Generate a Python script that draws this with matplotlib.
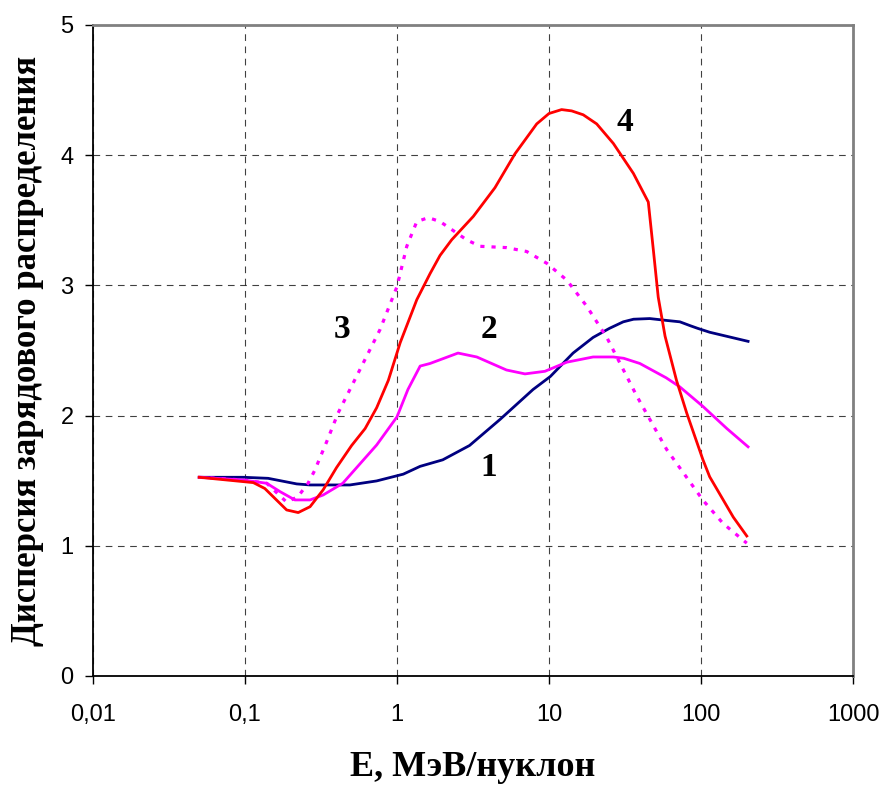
import numpy as np
import matplotlib.pyplot as plt

# curve 1 (navy)
e1 = [0.05, 0.0975, 0.142, 0.219, 0.268, 0.49, 0.735, 1.1, 1.42, 2.0, 3.0, 4.76, 7.85,
      10.2, 14.4, 19.5, 25.0, 30.8, 36.0, 46.0, 60.0, 72.6, 85.0, 95.0, 114.0, 204.0]
d1 = [1.526, 1.526, 1.518, 1.475, 1.467, 1.467, 1.498, 1.55, 1.61, 1.66, 1.77, 1.97, 2.2,
      2.30, 2.48, 2.60, 2.67, 2.72, 2.74, 2.745, 2.73, 2.72, 2.69, 2.67, 2.64, 2.57]

# curve 2 (magenta, solid)
e2 = [0.05, 0.0975, 0.139, 0.17, 0.213, 0.268, 0.327, 0.44, 0.735, 1.0, 1.18, 1.42, 1.65,
      2.52, 3.35, 5.25, 6.95, 9.4, 13.1, 19.5, 26.5, 31.0, 39.6, 59.0, 72.6, 103.0, 148.0, 204.0]
d2 = [1.526, 1.505, 1.48, 1.416, 1.352, 1.352, 1.39, 1.48, 1.774, 1.99, 2.20, 2.38, 2.40,
      2.48, 2.45, 2.35, 2.32, 2.34, 2.41, 2.45, 2.45, 2.44, 2.40, 2.29, 2.22, 2.07, 1.90, 1.76]

# curve 3 (magenta, dotted)
e3 = [0.05, 0.0975, 0.139, 0.188, 0.223, 0.26, 0.288, 0.345, 0.41, 0.51, 0.773, 1.0, 1.16,
      1.35, 1.61, 1.92, 2.87, 3.52, 5.25, 7.13, 9.66, 13.1, 17.7, 24.0, 37.8, 59.4, 103.0, 140.0, 200.0]
d3 = [1.526, 1.505, 1.48, 1.335, 1.377, 1.48, 1.58, 1.80, 2.02, 2.24, 2.66, 2.99, 3.30,
      3.49, 3.52, 3.49, 3.35, 3.30, 3.29, 3.26, 3.17, 3.04, 2.84, 2.60, 2.15, 1.74, 1.35, 1.17, 1.02]

# curve 4 (red)
e4 = [0.05, 0.1135, 0.135, 0.188, 0.224, 0.268, 0.327, 0.40, 0.503, 0.617, 0.735, 0.877, 1.05,
      1.35, 1.65, 1.92, 2.29, 3.18, 4.41, 5.97, 8.3, 10.0, 12.1, 14.1, 16.8, 20.6, 26.5, 35.9,
      45.0, 48.6, 52.3, 58.0, 69.0, 80.5, 103.0, 114.0, 163.0, 200.0]
d4 = [1.526, 1.485, 1.44, 1.275, 1.255, 1.30, 1.43, 1.60, 1.77, 1.90, 2.06, 2.27, 2.56,
      2.89, 3.09, 3.23, 3.35, 3.53, 3.75, 4.01, 4.24, 4.32, 4.35, 4.34, 4.31, 4.24, 4.09, 3.86,
      3.64, 3.27, 2.91, 2.61, 2.27, 2.02, 1.66, 1.53, 1.22, 1.075]

fig = plt.figure(figsize=(8.87, 7.85), dpi=100)
ax = fig.add_axes([0.1048, 0.1389, 0.8569, 0.8293])

ax.plot(e1, d1, color='#000080', lw=2.0)
ax.plot(e2, d2, color='#FF00FF', lw=2.0)
ax.plot(e3, d3, color='#FF00FF', lw=2.3, linestyle=(0, (1.3, 2.2)))
ax.plot(e4, d4, color='#FF0000', lw=2.0)

ax.set_xscale('log')
ax.set_xlim(0.01, 1000)
ax.set_ylim(0, 5)
ax.set_xticks([0.01, 0.1, 1, 10, 100, 1000])
ax.set_xticklabels(['0,01', '0,1', '1', '10', '100', '1000'])
ax.set_yticks([0, 1, 2, 3, 4, 5])
ax.minorticks_off()
ax.tick_params(direction='out', length=6, width=1, labelsize=17)
ax.tick_params(axis='x', pad=14)
ax.tick_params(axis='y', pad=8)
for lab in ax.get_xticklabels() + ax.get_yticklabels():
    lab.set_fontfamily('Liberation Sans')

ax.grid(True, color='black', linestyle=(0, (6, 5)), lw=0.8, alpha=0.75)

ax.spines['left'].set_linewidth(1.3)
ax.spines['bottom'].set_linewidth(1.3)
for s in ['top', 'right']:
    ax.spines[s].set_color('#808080')
    ax.spines[s].set_linewidth(2)

lfont = dict(family='Liberation Serif', weight='bold')
ax.set_xlabel('E, МэВ/нуклон', fontsize=26, labelpad=18, **lfont)
ax.set_ylabel('Дисперсия зарядового распределения', fontsize=25, labelpad=12, **lfont)

ax.text(31.6, 4.25, '4', fontsize=24, ha='center', va='center', **lfont)
ax.text(0.436, 2.66, '3', fontsize=24, ha='center', va='center', **lfont)
ax.text(4.03, 2.66, '2', fontsize=24, ha='center', va='center', **lfont)
ax.text(4.03, 1.60, '1', fontsize=24, ha='center', va='center', **lfont)

fig.savefig('out.png', dpi=100)
